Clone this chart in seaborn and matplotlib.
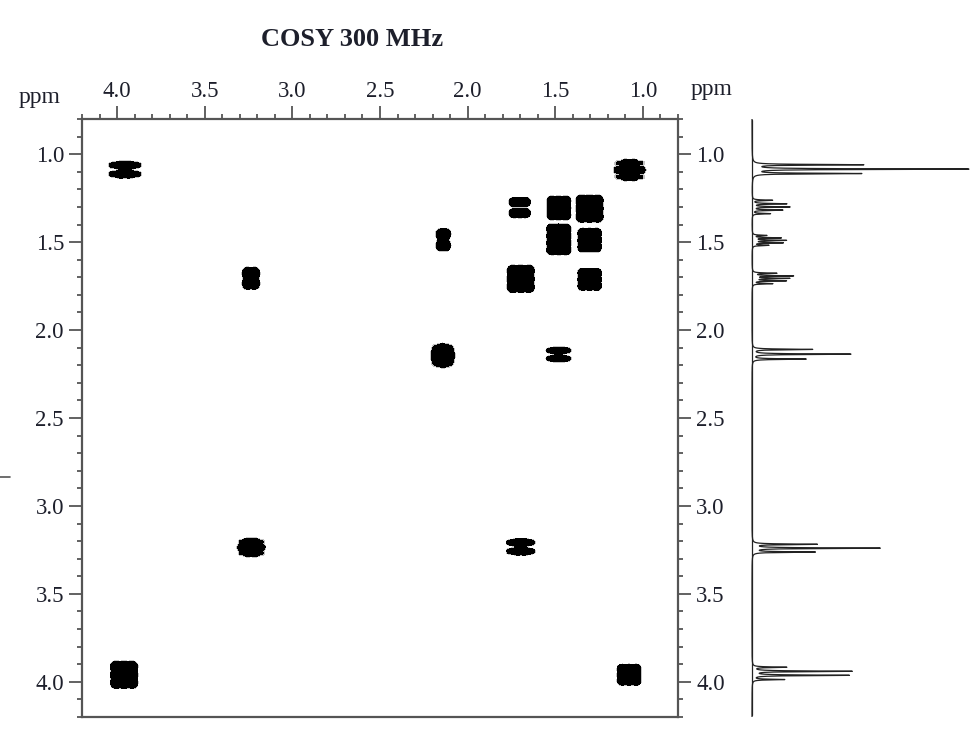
import numpy as np
import matplotlib
matplotlib.use("Agg")
import matplotlib.pyplot as plt
import seaborn as sns
from matplotlib.ticker import MultipleLocator, FixedLocator
from matplotlib.lines import Line2D
from math import comb

# ---------------- data ----------------
title = "COSY 300 MHz"
axis_unit = "ppm"
tick_values = [1.0, 1.5, 2.0, 2.5, 3.0, 3.5, 4.0]
tick_labels = ["1.0", "1.5", "2.0", "2.5", "3.0", "3.5", "4.0"]

# cross peaks: F2 (x) / F1 (y) centres in ppm, multiplet structure
peak_x  = [3.955, 1.076, 3.236, 2.139, 2.142, 1.703, 1.480, 1.304, 1.480, 1.304, 1.697, 1.304, 1.480, 3.234, 1.697, 3.960, 1.079]
peak_y  = [1.088, 1.090, 1.706, 1.487, 2.145, 1.304, 1.306, 1.310, 1.484, 1.489, 1.709, 1.712, 2.139, 3.236, 3.233, 3.960, 3.960]
peak_nx = [4, 4, 2, 2, 3, 3, 3, 3, 3, 3, 3, 3, 4, 4, 4, 3, 3]
peak_ny = [2, 3, 2, 2, 3, 2, 3, 3, 4, 3, 3, 3, 2, 3, 2, 3, 3]
peak_dx = [0.046, 0.046, 0.040, 0.030, 0.040, 0.034, 0.040, 0.046, 0.040, 0.040, 0.046, 0.040, 0.034, 0.040, 0.040, 0.046, 0.040]
peak_dy = [0.051, 0.040, 0.057, 0.063, 0.040, 0.063, 0.040, 0.046, 0.040, 0.040, 0.046, 0.037, 0.046, 0.034, 0.050, 0.046, 0.034]
peak_sx = [0.018, 0.016, 0.015, 0.014, 0.018, 0.014, 0.014, 0.016, 0.015, 0.014, 0.016, 0.014, 0.015, 0.015, 0.016, 0.016, 0.014]
peak_sy = [0.0115, 0.013, 0.017, 0.016, 0.018, 0.013, 0.014, 0.016, 0.014, 0.014, 0.016, 0.013, 0.010, 0.012, 0.011, 0.016, 0.013]
peak_binomial = [1, 1, 0, 0, 1, 0, 0, 0, 0, 0, 0, 0, 1, 1, 1, 0, 0]

# 1D projection: line positions (ppm) and heights
line_ppm    = [1.060, 1.085, 1.110,
               1.262, 1.282, 1.300, 1.318, 1.338,
               1.462, 1.476, 1.490, 1.504, 1.518,
               1.677, 1.692, 1.706, 1.720, 1.736,
               2.110, 2.137, 2.165,
               3.218, 3.240, 3.262,
               3.917, 3.940, 3.963, 3.987]
line_height = [110, 217, 108,
               20, 34, 37, 30, 18,
               14, 28, 33, 30, 16,
               24, 40, 36, 33, 20,
               60, 99, 54,
               64, 127, 62,
               34, 99, 97, 32]

# ---------------- style ----------------
sns.set_theme(style="white")
plt.rcParams["font.family"] = ["Liberation Serif", "DejaVu Serif"]
text_col = "#1d1f2b"
spine_col = "#555555"

W, H = 972, 744
fig = plt.figure(figsize=(W / 100, H / 100), dpi=100)
ax = fig.add_axes([82 / W, 1 - 717 / H, 596 / W, 598 / H])
axs = fig.add_axes([740 / W, 1 - 717 / H, 232 / W, 598 / H])

# ---------------- 2D contour map ----------------
xg = np.linspace(0.8, 4.2, 1400)
yg = np.linspace(0.8, 4.2, 1400)
Z = np.zeros((yg.size, xg.size))


def profile(grid, c, n, d, s, binomial):
    prof = np.zeros_like(grid)
    for k in range(n):
        off = (k - (n - 1) / 2) * d
        w = comb(n - 1, k) if binomial else 1.0
        prof += w * np.exp(-((grid - c - off) ** 2) / (2 * s ** 2))
    return prof


for i in range(len(peak_x)):
    px = profile(xg, peak_x[i], peak_nx[i], peak_dx[i], peak_sx[i], peak_binomial[i])
    py = profile(yg, peak_y[i], peak_ny[i], peak_dy[i], peak_sy[i], peak_binomial[i])
    P = np.outer(py, px)
    P /= P.max()
    Z = np.maximum(Z, P)

ax.contourf(xg, yg, Z, levels=[0.10, 0.15], colors=["#c4c4c4"])
ax.contourf(xg, yg, Z, levels=[0.15, 1.01], colors=["black"])
ax.set_xlim(4.2, 0.8)
ax.set_ylim(4.2, 0.8)

for sp in ax.spines.values():
    sp.set_color(spine_col)
    sp.set_linewidth(1.6)
    sp.set_visible(True)

ax.xaxis.set_major_locator(FixedLocator(tick_values))
ax.xaxis.set_minor_locator(MultipleLocator(0.1))
ax.yaxis.set_major_locator(FixedLocator(tick_values))
ax.yaxis.set_minor_locator(MultipleLocator(0.1))
ax.set_xticklabels(tick_labels)
ax.set_yticklabels(tick_labels)

ax.tick_params(axis="x", which="both", top=True, bottom=False, labeltop=True,
               labelbottom=False, direction="out", color=spine_col, width=1.3)
ax.tick_params(axis="y", which="both", left=True, right=True, labelleft=True,
               labelright=True, direction="out", color=spine_col, width=1.3)
ax.tick_params(which="major", length=9.5, labelsize=16.5, labelcolor=text_col)
ax.tick_params(which="minor", length=3.4)
ax.tick_params(axis="x", which="major", pad=2.5)
ax.tick_params(axis="y", which="major", pad=3.5)
ax.set_xlabel("")
ax.set_ylabel("")
ax.grid(False)

# ---------------- 1D projection ----------------
ppm_grid = np.arange(0.8, 4.2, 0.0004)
intensity = np.zeros_like(ppm_grid)
gam = 0.0022
for p, h in zip(line_ppm, line_height):
    intensity += h * gam ** 2 / ((ppm_grid - p) ** 2 + gam ** 2)

sns.lineplot(x=intensity, y=ppm_grid, sort=False, estimator=None, orient="y",
             color="#222222", linewidth=0.9, ax=axs)
axs.plot([0, 0], [0.807, 4.19], color="#222222", lw=0.9)
axs.set_ylim(4.2, 0.8)
axs.set_xlim(-12, 220)
axs.axis("off")

# ---------------- texts ----------------
fig.text(352 / W, 1 - 46 / H, title, ha="center", va="baseline",
         fontsize=19, fontweight="bold", color=text_col)
fig.text(40 / W, 1 - 103 / H, axis_unit, ha="center", va="baseline",
         fontsize=17, color=text_col)
fig.text(712 / W, 1 - 95 / H, axis_unit, ha="center", va="baseline",
         fontsize=17, color=text_col)

fig.add_artist(Line2D([0, 10 / W], [1 - 477 / H, 1 - 477 / H], color=spine_col, lw=1.2))

fig.savefig("out.png", dpi=100, facecolor="white")
